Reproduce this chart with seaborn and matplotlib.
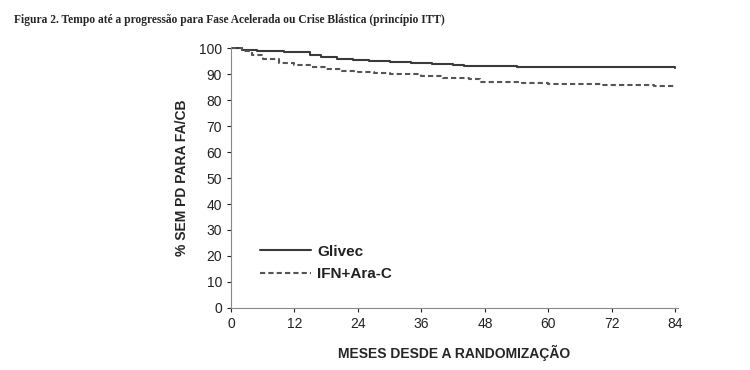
import pandas as pd
import matplotlib.pyplot as plt
import seaborn as sns

# curvas (meses, % sem progressão)
glivec_meses = [0, 2, 5, 10, 14, 15, 17, 20, 23, 26, 30, 34, 38, 42, 44, 50, 54, 70, 84]
glivec_pct = [100, 99.5, 99, 98.6, 98.4, 97.5, 96.6, 96, 95.5, 95, 94.7, 94.3, 94, 93.5, 93.2, 93.2, 92.8, 92.7, 92.5]

ifn_meses = [0, 2, 4, 6, 9, 12, 15, 18, 21, 24, 27, 30, 36, 40, 45, 47, 55, 60, 70, 80, 84]
ifn_pct = [100, 99, 97.5, 96, 94.5, 93.5, 92.7, 92, 91.3, 90.8, 90.3, 90, 89.5, 88.7, 88.3, 87, 86.7, 86.3, 86, 85.5, 85.3]

x_ticks = [0, 12, 24, 36, 48, 60, 72, 84]
y_ticks = list(range(0, 101, 10))

df = pd.concat([
    pd.DataFrame({"meses": glivec_meses, "pct": glivec_pct, "grupo": "Glivec"}),
    pd.DataFrame({"meses": ifn_meses, "pct": ifn_pct, "grupo": "IFN+Ara-C"}),
])

sns.set_style("ticks")
plt.rcParams['font.family'] = ['Liberation Sans', 'DejaVu Sans']

fig = plt.figure(figsize=(7.5, 3.7), dpi=100)
ax = fig.add_axes([0.308, 0.168, 0.596, 0.705])

sns.lineplot(data=df, x="meses", y="pct", hue="grupo", style="grupo",
             palette={"Glivec": "#3a3a3a", "IFN+Ara-C": "#555555"},
             dashes={"Glivec": "", "IFN+Ara-C": (2.5, 1.5)},
             drawstyle="steps-post", linewidth=1.5, ax=ax)

ax.set_xlim(0, 84.5)
ax.set_ylim(0, 100.5)
ax.set_xticks(x_ticks)
ax.set_yticks(y_ticks)
ax.tick_params(labelsize=10, colors="#222222", length=3, width=0.8)
for s in ["top", "right"]:
    ax.spines[s].set_visible(False)
for s in ["left", "bottom"]:
    ax.spines[s].set_color("#888888")
    ax.spines[s].set_linewidth(0.8)

ax.set_xlabel("MESES DESDE A RANDOMIZAÇÃO", fontsize=10, fontweight="bold", labelpad=10)
ax.set_ylabel("% SEM PD PARA FA/CB", fontsize=10, fontweight="bold", labelpad=7)

leg = ax.legend(loc="lower left", bbox_to_anchor=(0.035, 0.05), frameon=False,
                fontsize=11, handlelength=3.3, handletextpad=0.4, labelspacing=0.55)
for t in leg.get_texts():
    t.set_fontweight("bold")
    t.set_color("#222222")

fig.text(0.019, 0.945, "Figura 2. Tempo até a progressão para Fase Acelerada ou Crise Blástica (princípio ITT)",
         family="Liberation Serif", fontsize=8.3, fontweight="bold", va="center")

fig.savefig("out.png", dpi=100)
